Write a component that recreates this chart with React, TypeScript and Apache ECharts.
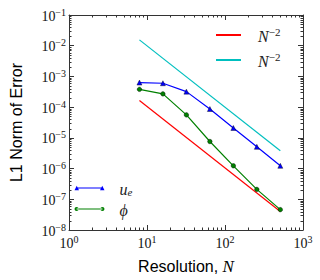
import React, { useEffect, useRef } from 'react';
import * as echarts from 'echarts';

const resolutions = [8, 16, 32, 64, 128, 256, 512];
const ueValues = [6.3e-4, 6.0e-4, 3.2e-4, 8.7e-5, 2.1e-5, 5.1e-6, 1.23e-6];
const phiValues = [3.8e-4, 2.7e-4, 5.6e-5, 7.6e-6, 1.23e-6, 2.1e-7, 4.6e-8];
const refN = [8, 512];
const refRed = [1.65e-4, 4.03e-8];
const refCyan = [1.55e-2, 3.78e-6];

const minorMultipliers = [2, 3, 4, 5, 6, 7, 8, 9];
const xDecades = [1, 10, 100];
const yDecades = [1e-8, 1e-7, 1e-6, 1e-5, 1e-4, 1e-3, 1e-2];

const SERIF = "'Liberation Serif', 'DejaVu Serif', serif";
const SANS = "'Liberation Sans', Arial, sans-serif";

function expLabel(v: number) {
  const e = Math.round(Math.log10(v));
  const s = e < 0 ? '\u2212' + -e : String(e);
  return '{b|10}{s|' + s + '}';
}

const tickRich = {
  b: { fontFamily: SERIF, fontSize: 14, color: '#111', lineHeight: 16, verticalAlign: 'bottom' },
  s: { fontFamily: SERIF, fontSize: 10, color: '#111', lineHeight: 10, verticalAlign: 'top' },
};

const legendRich = {
  i: { fontFamily: SERIF, fontStyle: 'italic', fontSize: 16, color: '#222', lineHeight: 18, verticalAlign: 'bottom' },
  sup: { fontFamily: SERIF, fontSize: 11, color: '#222', lineHeight: 11, verticalAlign: 'top' },
  sub: { fontFamily: SERIF, fontStyle: 'italic', fontSize: 11, color: '#222', lineHeight: 11, verticalAlign: 'bottom' },
};

function buildMinorData() {
  const d: number[][] = [];
  xDecades.forEach((dec) => minorMultipliers.forEach((m) => d.push([dec * m, 1e-4, 0])));
  yDecades.forEach((dec) => minorMultipliers.forEach((m) => d.push([10, dec * m, 1])));
  return d;
}

const AXIS_COLOR = '#333';

function buildOption() {
  const logX = {
    type: 'log',
    logBase: 10,
    min: 1,
    max: 1000,
    splitNumber: 3,
    splitLine: { show: false },
    axisLine: { show: true, lineStyle: { color: AXIS_COLOR, width: 1 } },
    axisTick: { show: true, inside: true, length: 5, lineStyle: { color: AXIS_COLOR } },
  };
  const logY = {
    type: 'log',
    logBase: 10,
    min: 1e-8,
    max: 1e-1,
    splitNumber: 7,
    splitLine: { show: false },
    axisLine: { show: true, lineStyle: { color: AXIS_COLOR, width: 1 } },
    axisTick: { show: true, inside: true, length: 5, lineStyle: { color: AXIS_COLOR } },
  };
  return {
    animation: false,
    backgroundColor: '#fff',
    grid: { left: 57, right: 17, top: 15, bottom: 43, containLabel: false },
    xAxis: [
      {
        ...logX,
        position: 'bottom',
        axisLabel: { margin: 4, formatter: expLabel, rich: tickRich },
        name: 'Resolution, {n|N}',
        nameLocation: 'middle',
        nameGap: 28,
        nameTextStyle: {
          fontFamily: SANS,
          fontSize: 16,
          color: '#000',
          rich: { n: { fontFamily: SERIF, fontStyle: 'italic', fontSize: 17, color: '#000' } },
        },
      },
      { ...logX, position: 'top', axisLabel: { show: false } },
    ],
    yAxis: [
      {
        ...logY,
        position: 'left',
        axisLabel: { margin: 3, formatter: expLabel, rich: tickRich },
        name: 'L1 Norm of Error',
        nameLocation: 'middle',
        nameGap: 45,
        nameTextStyle: { fontFamily: SANS, fontSize: 16, color: '#000' },
      },
      { ...logY, position: 'right', axisLabel: { show: false } },
    ],
    legend: [
      {
        orient: 'vertical',
        left: 216,
        top: 26,
        padding: 0,
        itemGap: 7,
        itemWidth: 25,
        itemHeight: 2,
        data: [
          { name: 'refRed', icon: 'rect' },
          { name: 'refCyan', icon: 'rect' },
        ],
        formatter: () => '{i|N}{sup|\u22122}',
        textStyle: { padding: [0, 0, 0, 12], rich: legendRich },
      },
      {
        orient: 'vertical',
        left: 74.5,
        top: 181,
        padding: 0,
        itemGap: 5,
        itemWidth: 30,
        itemHeight: 6,
        data: [
          {
            name: 'ue',
            icon: 'path://M2.5,2.5 L27.5,2.5 L27.5,3.6 L2.5,3.6 Z M0.3,5.3 L2.5,0.9 L4.7,5.3 Z M25.3,5.3 L27.5,0.9 L29.7,5.3 Z',
            itemStyle: { borderWidth: 0 },
          },
          {
            name: 'phi',
            icon: 'path://M2.5,2.5 L27.5,2.5 L27.5,3.6 L2.5,3.6 Z M0.5,3 A2,2 0 1,0 4.5,3 A2,2 0 1,0 0.5,3 Z M25.5,3 A2,2 0 1,0 29.5,3 A2,2 0 1,0 25.5,3 Z',
            itemStyle: { borderWidth: 0 },
          },
        ],
        formatter: (name: string) => (name === 'ue' ? '{i|u}{sub|e}' : '{i|\u03D5}'),
        textStyle: { padding: [0, 0, 0, 10], rich: legendRich },
      },
    ],
    series: [
      {
        name: 'refRed',
        type: 'line',
        data: refN.map((n, i) => [n, refRed[i]]),
        showSymbol: false,
        symbol: 'none',
        lineStyle: { color: '#ff0000', width: 1.2 },
        itemStyle: { color: '#ff0000' },
      },
      {
        name: 'refCyan',
        type: 'line',
        data: refN.map((n, i) => [n, refCyan[i]]),
        showSymbol: false,
        symbol: 'none',
        lineStyle: { color: '#00bfbf', width: 1.2 },
        itemStyle: { color: '#00bfbf' },
      },
      {
        name: 'ue',
        type: 'line',
        data: resolutions.map((n, i) => [n, ueValues[i]]),
        symbol: 'triangle',
        symbolSize: 5,
        lineStyle: { color: '#0000ff', width: 1.2 },
        itemStyle: { color: '#0000ff', borderColor: '#000', borderWidth: 0.4 },
      },
      {
        name: 'phi',
        type: 'line',
        data: resolutions.map((n, i) => [n, phiValues[i]]),
        symbol: 'circle',
        symbolSize: 4.5,
        lineStyle: { color: '#008000', width: 1.2 },
        itemStyle: { color: '#008000', borderColor: '#000', borderWidth: 0.4 },
      },
      {
        name: 'minorTicks',
        type: 'custom',
        xAxisIndex: 0,
        yAxisIndex: 0,
        clip: false,
        silent: true,
        data: buildMinorData(),
        renderItem: (params: any, api: any) => {
          const cs = params.coordSys;
          const kind = api.value(2);
          const style = { stroke: AXIS_COLOR, lineWidth: 1 };
          const L = 2.5;
          if (kind === 0) {
            const px = Math.round(api.coord([api.value(0), 1e-4])[0]) + 0.5;
            const yb = cs.y + cs.height;
            return {
              type: 'group',
              children: [
                { type: 'line', shape: { x1: px, y1: yb, x2: px, y2: yb - L }, style },
                { type: 'line', shape: { x1: px, y1: cs.y, x2: px, y2: cs.y + L }, style },
              ],
            };
          }
          const py = Math.round(api.coord([10, api.value(1)])[1]) + 0.5;
          const xr = cs.x + cs.width;
          return {
            type: 'group',
            children: [
              { type: 'line', shape: { x1: cs.x, y1: py, x2: cs.x + L, y2: py }, style },
              { type: 'line', shape: { x1: xr, y1: py, x2: xr - L, y2: py }, style },
            ],
          };
        },
      },
    ],
  };
}

export default function App() {
  const ref = useRef<HTMLDivElement>(null);
  useEffect(() => {
    document.body.style.margin = '0';
    const chart = echarts.init(ref.current!, null, { renderer: 'svg' });
    chart.setOption(buildOption() as any);
    return () => chart.dispose();
  }, []);
  return <div ref={ref} style={{ width: 320, height: 280, position: 'absolute', left: 0, top: 0 }} />;
}
